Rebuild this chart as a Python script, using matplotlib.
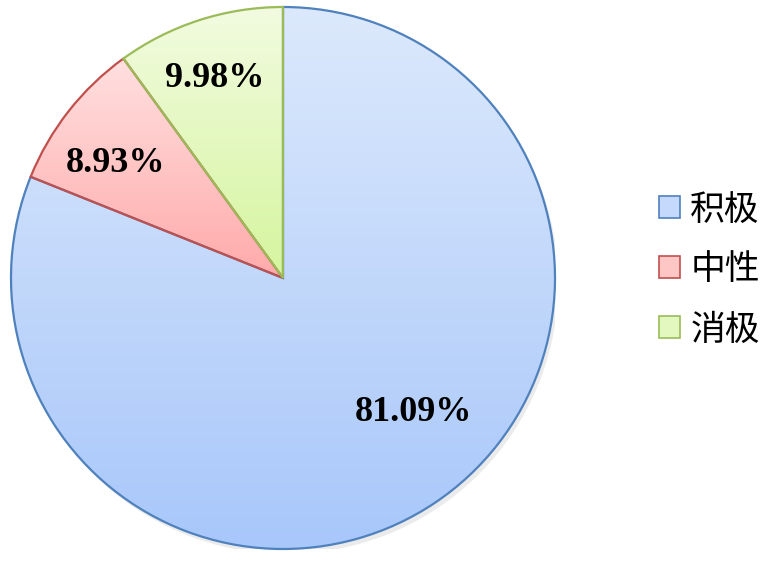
import matplotlib
matplotlib.use('Agg')
from matplotlib import pyplot as plt
from matplotlib.patches import Patch
from matplotlib.colors import LinearSegmentedColormap
import numpy as np

plt.rcParams['font.family'] = ['Noto Sans CJK SC', 'DejaVu Sans']

labels = ['积极', '中性', '消极']
values = [81.09, 8.93, 9.98]
pct_text = ['81.09%', '8.93%', '9.98%']

# gradient (top, bottom) and edge colour of each slice
TOP = ['#dce9fc', '#ffe0e0', '#f2fbe0']
BOTTOM = ['#a8c7fa', '#ffaaaa', '#d5f59e']
EDGE = ['#4f81bd', '#c0504d', '#9bbb59']
MID = ['#c4d9fb', '#ffc6c6', '#e3f8be']

fig = plt.figure(figsize=(7.61, 5.69), dpi=100)
ax = fig.add_axes([11/761, 20/569, 544/761, 542/569])

wedges, _ = ax.pie(values, startangle=90, counterclock=False,
                   wedgeprops=dict(linewidth=1.6, zorder=3))
ax.set_aspect('auto')
ax.axis('off')

# slight shadow under the pie
sh = plt.Circle((0.012, -0.018), 1.0, color='#000000', alpha=0.08, zorder=0.5, lw=0)
ax.add_patch(sh)

for i, w in enumerate(wedges):
    w.set_facecolor('none')
    w.set_edgecolor(EDGE[i])
    ext = w.get_path().get_extents()
    cmap = LinearSegmentedColormap.from_list('g%d' % i, [TOP[i], BOTTOM[i]])
    grad = np.linspace(0, 1, 256).reshape(-1, 1)
    im = ax.imshow(grad, cmap=cmap, aspect='auto', origin='upper',
                   extent=[ext.x0, ext.x1, ext.y0, ext.y1], zorder=1)
    im.set_clip_path(w)

ax.set_xlim(-1, 1)
ax.set_ylim(-1, 1)

# label positions (fraction of radius, angle in degrees)
label_pos = [(0.69, -45.9), (0.746, 145.4), (0.78, 108.9)]
for t, (r, a) in zip(pct_text, label_pos):
    ax.text(r*np.cos(np.radians(a)), r*np.sin(np.radians(a)), t,
            ha='center', va='center', fontsize=26, fontweight='bold',
            family='Liberation Serif', zorder=5)

handles = [Patch(facecolor=MID[i], edgecolor=EDGE[i], linewidth=1.2) for i in range(3)]
fig.legend(handles, labels, loc='center left', bbox_to_anchor=(659/761, 1-270/569),
           frameon=False, fontsize=25, handlelength=0.6, handleheight=0.6,
           handletextpad=0.3, labelspacing=0.72, borderpad=0, borderaxespad=0)

plt.savefig('out.png', dpi=100)
